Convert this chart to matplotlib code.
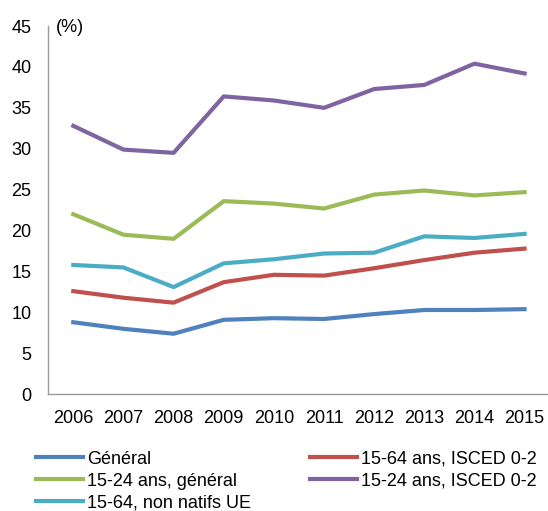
import matplotlib.pyplot as plt
import numpy as np

plt.rcParams['font.family'] = ['Liberation Sans', 'DejaVu Sans']

years = ["2006", "2007", "2008", "2009", "2010", "2011", "2012", "2013", "2014", "2015"]
general = [8.8, 8.0, 7.4, 9.1, 9.3, 9.2, 9.8, 10.3, 10.3, 10.4]
isced_1564 = [12.6, 11.8, 11.2, 13.7, 14.6, 14.5, 15.4, 16.4, 17.3, 17.8]
general_1524 = [22.0, 19.5, 19.0, 23.6, 23.3, 22.7, 24.4, 24.9, 24.3, 24.7]
isced_1524 = [32.8, 29.9, 29.5, 36.4, 35.9, 35.0, 37.3, 37.8, 40.4, 39.2]
non_natifs = [15.8, 15.5, 13.1, 16.0, 16.5, 17.2, 17.3, 19.3, 19.1, 19.6]

fig = plt.figure(figsize=(5.48, 5.11), dpi=100)
ax = fig.add_axes([0.088, 0.2284, 0.915, 0.7207])

x = np.arange(len(years))
l1, = ax.plot(x, general, color="#4F81BD", lw=3, label="Général")
l2, = ax.plot(x, isced_1564, color="#C0504D", lw=3, label="15-64 ans, ISCED 0-2")
l3, = ax.plot(x, general_1524, color="#9BBB59", lw=3, label="15-24 ans, général")
l4, = ax.plot(x, isced_1524, color="#8064A2", lw=3, label="15-24 ans, ISCED 0-2")
l5, = ax.plot(x, non_natifs, color="#4BACC6", lw=3, label="15-64, non natifs UE")

ax.set_xlim(-0.5, 9.5)
ax.set_ylim(0, 45)
ax.set_yticks(range(0, 46, 5))
ax.set_xticks(x, years)
ax.tick_params(length=0, labelsize=13)
ax.tick_params(axis='y', pad=12)
ax.tick_params(axis='x', pad=11)
for s in ["top", "right"]:
    ax.spines[s].set_visible(False)
for s in ["left", "bottom"]:
    ax.spines[s].set_color("#999999")
    ax.spines[s].set_linewidth(1.0)

ax.text(0.015, 0.995, "(%)", transform=ax.transAxes, fontsize=13, va="center", ha="left")

fig.legend(handles=[l1, l3, l5, l2, l4], ncol=2, loc="upper left",
           bbox_to_anchor=(0.066, 0.118), frameon=False, fontsize=13,
           borderpad=0, handlelength=2.6, handletextpad=0.2,
           labelspacing=0.28, columnspacing=3.3, borderaxespad=0)

fig.savefig("out.png", dpi=100)
